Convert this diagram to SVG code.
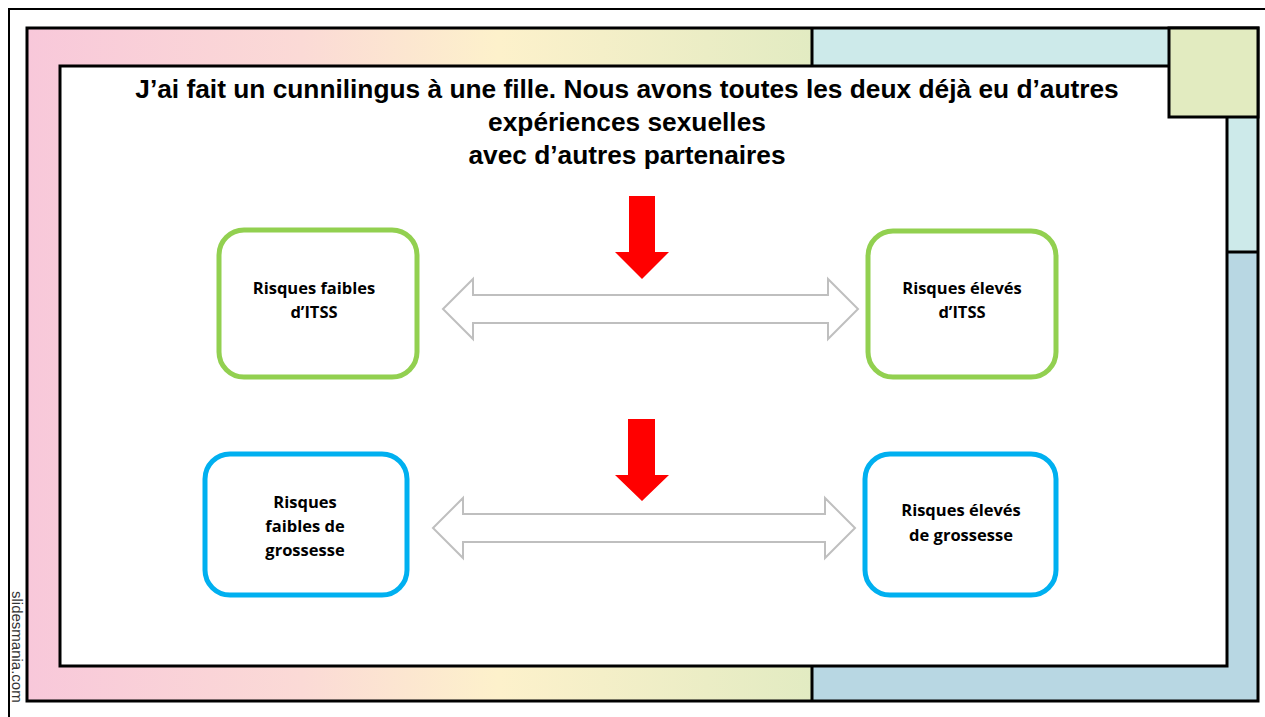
<svg xmlns="http://www.w3.org/2000/svg" width="1265" height="717" viewBox="0 0 1265 717">
<defs>
<linearGradient id="grad" x1="27" y1="0" x2="812" y2="0" gradientUnits="userSpaceOnUse">
<stop offset="0" stop-color="#F8C8DA"/>
<stop offset="0.35" stop-color="#FBDAD6"/>
<stop offset="0.6" stop-color="#FDF1CB"/>
<stop offset="1" stop-color="#E2EBC2"/>
</linearGradient>
<style>
.frame{stroke:#000;stroke-width:3;}
.title{font-family:"Liberation Sans",Arial,sans-serif;font-weight:bold;font-size:26.3px;fill:#000;text-anchor:middle;}
.lbl{font-family:"Open Sans","Liberation Sans",sans-serif;font-weight:bold;font-size:16.5px;fill:#000;text-anchor:middle;}
.gbox{fill:#fff;stroke:#92D050;stroke-width:5;}
.bbox{fill:#fff;stroke:#00B0F0;stroke-width:5;}
.dbl{fill:#fff;stroke:#BFBFBF;stroke-width:2;}
.red{fill:#FF0000;}
</style>
</defs>
<rect width="1265" height="717" fill="#fff"/>
<g id="background">
<path d="M9,717 V9 H1265" fill="none" stroke="#000" stroke-width="2"/>
<rect x="27" y="28" width="1231" height="673" fill="url(#grad)"/>
<rect x="812" y="28" width="357" height="38" fill="#CDEAEA"/>
<rect x="1227" y="117" width="31" height="135" fill="#CDEAEA"/>
<rect x="1227" y="252" width="31" height="449" fill="#B8D7E3"/>
<rect x="812" y="666" width="446" height="35" fill="#B8D7E3"/>
<rect x="27" y="28" width="1231" height="673" fill="none" class="frame"/>
<line x1="812" y1="28" x2="812" y2="66" class="frame"/>
<line x1="812" y1="666" x2="812" y2="701" class="frame"/>
<line x1="1227" y1="252" x2="1258" y2="252" class="frame"/>
<rect x="60" y="66" width="1167" height="600" fill="#fff" class="frame"/>
<rect x="1169" y="28" width="89" height="89" fill="#E2EBC0" class="frame"/>
<text transform="translate(12,591) rotate(90)" font-family="'Liberation Sans',Arial,sans-serif" font-size="15" fill="#333">slidesmania.com</text>
</g>
<g id="title">
<text class="title" x="627" y="98">J’ai fait un cunnilingus à une fille. Nous avons toutes les deux déjà eu d’autres</text>
<text class="title" x="627" y="131">expériences sexuelles</text>
<text class="title" x="627" y="164">avec d’autres partenaires</text>
</g>
<g id="connectors">
<path class="dbl" d="M443,309 L473,279 L473,295 L828,295 L828,279 L858,309 L828,339 L828,323 L473,323 L473,339 Z"/>
<path class="dbl" d="M433,528 L463,498 L463,514 L825,514 L825,498 L855,528 L825,558 L825,542 L463,542 L463,558 Z"/>
<path class="red" d="M629,196 H655 V252 H669 L642,279 L615,252 H629 Z"/>
<path class="red" d="M628,419 H655 V475 H669 L642,501 L615,475 H628 Z"/>
</g>
<g id="node-faibles-itss">
<rect class="gbox" x="219" y="230" width="198" height="147" rx="25"/>
<text class="lbl" x="314" y="294">Risques faibles</text>
<text class="lbl" x="314" y="318">d’ITSS</text>
</g>
<g id="node-eleves-itss">
<rect class="gbox" x="868" y="231" width="188" height="146" rx="25"/>
<text class="lbl" x="962" y="294">Risques élevés</text>
<text class="lbl" x="962" y="318">d’ITSS</text>
</g>
<g id="node-faibles-grossesse">
<rect class="bbox" x="205" y="454" width="202" height="141" rx="25"/>
<text class="lbl" x="305" y="508">Risques</text>
<text class="lbl" x="305" y="532">faibles de</text>
<text class="lbl" x="305" y="556">grossesse</text>
</g>
<g id="node-eleves-grossesse">
<rect class="bbox" x="865" y="454" width="191" height="141" rx="25"/>
<text class="lbl" x="961" y="516">Risques élevés</text>
<text class="lbl" x="961" y="541">de grossesse</text>
</g>
</svg>
